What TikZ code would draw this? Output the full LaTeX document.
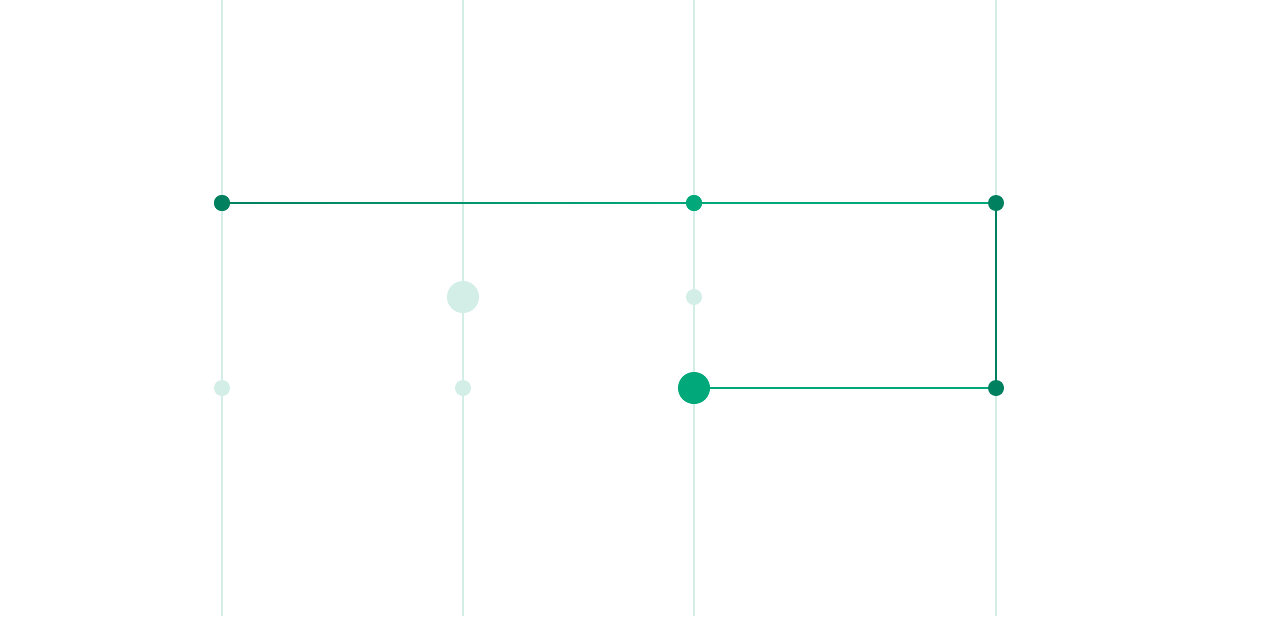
\documentclass[tikz,border=0pt]{standalone}
\usetikzlibrary{positioning}
\definecolor{gridc}{HTML}{D3EDE7}
\definecolor{darkg}{HTML}{00805F}
\definecolor{brightg}{HTML}{00A87A}

\begin{document}
\begin{tikzpicture}[x=1pt,y=-1pt,
  dot/.style={circle,inner sep=0pt,minimum size=16pt},
  bigdot/.style={circle,inner sep=0pt,minimum size=32pt},
  gridline/.style={gridc,line width=2.2pt},
  route/.style={line width=2.2pt}]
  \useasboundingbox (0,0) rectangle (1280,616);
  % rails
  \foreach \x/\n in {222/a,463/b,694/c,996/d}
    \draw[gridline] (\x,0) coordinate (top\n) -- (\x,616) coordinate (bot\n);
  % faded stops
  \node[bigdot,fill=gridc] (b2) at (463,297) {};
  \node[dot,fill=gridc] (c2) at (694,297) {};
  \node[dot,fill=gridc] (a3) at (222,388) {};
  \node[dot,fill=gridc] (b3) at (463,388) {};
  % route
  \node[dot,fill=darkg] (a1) at (222,203) {};
  \node[dot,fill=brightg] (c1) at (694,203) {};
  \node[dot,fill=darkg] (d1) at (996,203) {};
  \node[dot,fill=darkg] (d3) at (996,388) {};
  \node[bigdot,fill=brightg] (c3) at (694,388) {};
  \shade[left color=darkg,right color=brightg]
    ([yshift=0.8pt]a1.center) rectangle ([yshift=-0.8pt]c1.center);
  \draw[route,brightg] (c1) -- (d1);
  \draw[route,darkg] (d1) -- (d3);
  \draw[route,brightg] (d3) -- (c3);
  % redraw stops above the line
  \node[dot,fill=darkg] at (a1) {};
  \node[dot,fill=brightg] at (c1) {};
\end{tikzpicture}
\end{document}
